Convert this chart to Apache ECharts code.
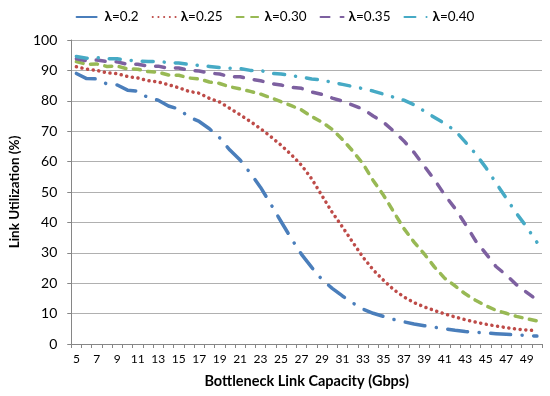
<!DOCTYPE html>
<html>
<head>
<meta charset="utf-8">
<script src="https://cdn.jsdelivr.net/npm/echarts@6/dist/echarts.min.js"></script>
<style>html,body{margin:0;padding:0;background:#fff}#c{width:550px;height:396px}</style>
</head>
<body>
<div id="c"></div>
<script>
var capacities = [];
for (var c = 5; c <= 50; c++) capacities.push(String(c));

var seriesNames = ['0.2', '0.25', '0.30', '0.35', '0.40'];

var lambda020 = [89, 87.3, 87.2, 85.5, 85.2, 83.5, 83.2, 81, 80.2, 78.3, 77.3, 74.7, 73.2, 70.8, 67.8, 63.8, 60.5, 56.2, 51.5, 46, 40.3, 34.7, 29.5, 25.2, 21.2, 18.3, 15.8, 13.5, 11.5, 10.1, 9.1, 8.1, 7.3, 6.6, 6.0, 5.5, 5.0, 4.5, 4.1, 3.9, 3.6, 3.4, 3.2, 3.0, 2.8, 2.6];
var lambda025 = [91.2, 90.4, 90, 89.2, 88.9, 88, 87.5, 86.6, 86.2, 85.3, 84.3, 83.1, 82.5, 80.8, 79.6, 77.5, 75.4, 73.2, 70.8, 68.2, 65.4, 62.3, 58.8, 54.3, 48.8, 43.3, 38.5, 33.5, 28.6, 24.4, 21, 17.9, 15.5, 13.6, 12.2, 11.0, 9.9, 8.9, 8.0, 7.2, 6.5, 5.9, 5.4, 4.9, 4.6, 4.4];
var lambda030 = [92.9, 92, 92.1, 91.3, 91.4, 90.5, 90.4, 89.6, 89.4, 88.5, 88.4, 87.5, 87.2, 86.2, 85.7, 84.6, 83.9, 83.1, 82.2, 81, 79.7, 78.4, 77, 74.8, 73, 70.6, 67.3, 63.5, 59.3, 53.8, 49, 43.5, 38, 33.5, 29.6, 25.3, 21.6, 19.1, 16.5, 14.4, 12.6, 11.1, 10.1, 9.1, 8.3, 7.6];
var lambda035 = [93.8, 93.2, 93.4, 92.9, 92.8, 92, 92, 91.4, 91.4, 90.7, 90.8, 90, 89.8, 89.1, 88.8, 87.9, 87.9, 87.1, 86.6, 85.7, 85.2, 84.4, 84.1, 82.9, 82.1, 80.9, 79.9, 78.6, 77.3, 75, 73, 70, 66.8, 63, 58.5, 54, 49, 44.6, 39.5, 34, 29.8, 25.5, 22.7, 19.5, 17, 14.5];
var lambda040 = [94.6, 94, 94.2, 93.8, 93.8, 93.4, 93.1, 92.9, 92.9, 92.6, 92.4, 92, 91.6, 91.3, 90.9, 90.7, 90.6, 90, 90, 89, 88.8, 88.3, 87.8, 87.2, 86.8, 86.1, 85.4, 84.7, 84, 83.2, 82.2, 81.2, 80.2, 78.7, 76.6, 74.5, 72.5, 70.2, 66.5, 62.6, 58.1, 53, 48, 43, 38.5, 33.5];

var yTicks = [0, 10, 20, 30, 40, 50, 60, 70, 80, 90, 100];

var FONT = 'Lato, "Open Sans", sans-serif';
var colors = ['#4a7ebb', '#be4b48', '#98b954', '#7d60a0', '#46aac5'];
var dashes = [
  [20, 11.5, 0.1, 11.5],
  [0.1, 5.6],
  [7, 7.5],
  [9, 11],
  [11, 11, 0.1, 11]
];
var allData = [lambda020, lambda025, lambda030, lambda035, lambda040];

var series = seriesNames.map(function (n, i) {
  return {
    name: n,
    type: 'line',
    data: allData[i],
    symbol: 'none',
    smooth: false,
    lineStyle: { color: colors[i], width: 3.5, type: dashes[i], cap: 'round', join: 'round' },
    itemStyle: { color: colors[i] }
  };
});

var chart = echarts.init(document.getElementById('c'), null, { renderer: 'canvas' });
chart.setOption({
  animation: false,
  backgroundColor: '#fff',
  textStyle: { fontFamily: FONT },
  legend: {
    top: 5,
    left: 'center',
    itemWidth: 23,
    itemHeight: 10,
    itemGap: 13,
    data: seriesNames,
    itemStyle: { opacity: 0, borderWidth: 0 },
    formatter: function (n) { return '{b|λ}{n|=' + n + '}'; },
    textStyle: {
      fontFamily: FONT, fontSize: 13.5, color: '#000',
      rich: {
        b: { fontFamily: FONT, fontSize: 13.5, fontWeight: 'bold', color: '#000' },
        n: { fontFamily: FONT, fontSize: 13.5, color: '#000' }
      }
    }
  },
  grid: { left: 65, right: 8, top: 40, bottom: 52 },
  xAxis: {
    type: 'category',
    data: capacities,
    boundaryGap: true,
    name: 'Bottleneck Link Capacity (Gbps)',
    nameLocation: 'middle',
    nameGap: 30,
    nameTextStyle: { fontFamily: FONT, fontSize: 14.5, fontWeight: 'bold', color: '#000' },
    axisLine: { lineStyle: { color: '#868686', width: 1 } },
    axisTick: { show: true, interval: 0, length: 4, lineStyle: { color: '#868686' } },
    axisLabel: { interval: 1, fontFamily: FONT, fontSize: 12, color: '#000', margin: 9 },
    splitLine: { show: false }
  },
  yAxis: {
    type: 'value',
    min: 0, max: 100, interval: 10,
    name: 'Link Utilization (%)',
    nameLocation: 'middle',
    nameGap: 45,
    nameRotate: 90,
    nameTextStyle: { fontFamily: FONT, fontSize: 13.5, fontWeight: 'bold', color: '#000' },
    axisLine: { show: true, lineStyle: { color: '#868686', width: 1 } },
    axisTick: { show: true, length: 4, lineStyle: { color: '#868686' } },
    axisLabel: { fontFamily: FONT, fontSize: 14, color: '#000', margin: 14,
      formatter: function (v) { return yTicks.indexOf(v) >= 0 ? String(v) : ''; } },
    splitLine: { lineStyle: { color: '#b0b0b0', width: 1 } }
  },
  series: series
});
</script>
</body>
</html>
